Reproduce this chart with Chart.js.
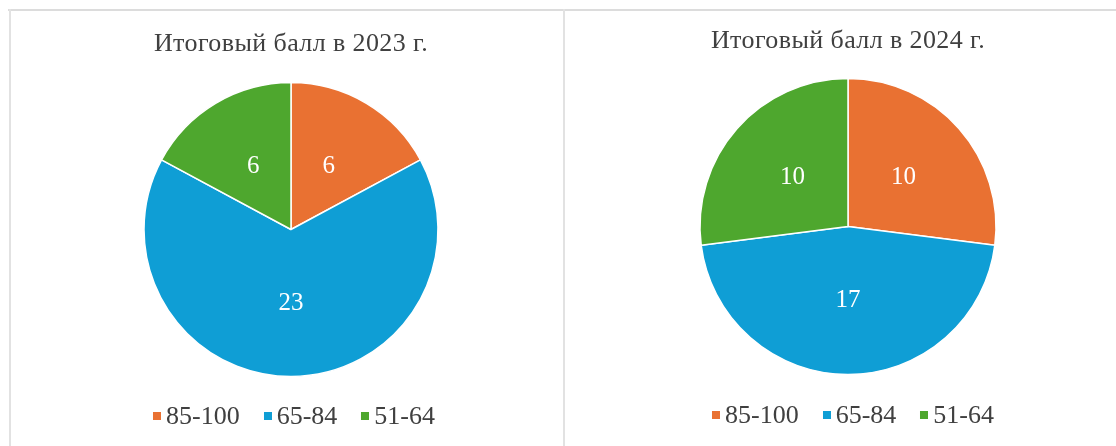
<!DOCTYPE html>
<html><head><meta charset="utf-8">
<script src="https://cdn.jsdelivr.net/npm/chart.js@4"></script>
<style>
html,body{margin:0;padding:0;background:#fff;width:1116px;height:446px;overflow:hidden;}
#wrap{position:relative;width:1116px;height:446px;font-family:"Liberation Serif","Times New Roman",serif;color:#404040;}
canvas{position:absolute;top:0;}
.title{position:absolute;font-size:26px;white-space:nowrap;transform:translate(-50%,-50%);letter-spacing:0.4px;}
.legend{position:absolute;display:flex;align-items:center;font-size:26px;white-space:nowrap;transform:translate(-50%,-50%);}
.legend .it{display:flex;align-items:center;margin-right:24px;}
.legend .it:last-child{margin-right:0;}
.legend .sw{width:8px;height:8px;margin-right:5px;}
.line{position:absolute;background:#dcdcdc;}
</style></head>
<body><div id="wrap">
<div class="line" style="left:8px;top:9px;width:1108px;height:2px;"></div>
<div class="line" style="left:9px;top:9px;width:2px;height:437px;background:#e2e2e2"></div>
<div class="line" style="left:563px;top:9px;width:2px;height:437px;background:#e2e2e2"></div>
<canvas id="c1" width="540" height="446" style="left:21px;width:540px;height:446px"></canvas>
<canvas id="c2" width="540" height="446" style="left:578px;width:540px;height:446px"></canvas>
</div>
<script>
const categories = ["85-100", "65-84", "51-64"];
const values2023 = [6, 23, 6];
const values2024 = [10, 17, 10];
const titles = ["Итоговый балл в 2023 г.", "Итоговый балл в 2024 г."];
const colors = ["#E97132", "#0F9ED5", "#4EA72E"];

const wrap = document.getElementById('wrap');
function addText(cls, html, x, y) {
  const d = document.createElement('div');
  d.className = cls; d.innerHTML = html;
  d.style.left = x + 'px'; d.style.top = y + 'px';
  wrap.appendChild(d);
}
function legendHtml() {
  return categories.map((c, i) => `<div class="it"><div class="sw" style="background:${colors[i]}"></div><span>${c}</span></div>`).join('');
}

const labelPlugin = {
  id: 'valueLabels',
  afterDatasetsDraw(chart) {
    const ctx = chart.ctx;
    const meta = chart.getDatasetMeta(0);
    const data = chart.data.datasets[0].data;
    ctx.save();
    ctx.fillStyle = '#ffffff';
    ctx.font = '25px "Liberation Serif", serif';
    ctx.textAlign = 'center';
    ctx.textBaseline = 'middle';
    meta.data.forEach((arc, i) => {
      const p = arc.tooltipPosition();
      ctx.fillText(String(data[i]), p.x, p.y);
    });
    ctx.restore();
  }
};

function makePie(id, values, radius, padTop, padBottom) {
  return new Chart(document.getElementById(id), {
    type: 'pie',
    data: {
      labels: categories,
      datasets: [{
        data: values,
        backgroundColor: colors,
        borderColor: '#ffffff',
        borderWidth: 1.5,
        radius: radius
      }]
    },
    options: {
      responsive: false,
      animation: false,
      layout: { padding: { top: padTop, bottom: padBottom, left: 0, right: 0 } },
      plugins: { legend: { display: false }, title: { display: false }, tooltip: { enabled: false } }
    },
    plugins: [labelPlugin]
  });
}

makePie('c1', values2023, 147, 90, 77);
makePie('c2', values2024, 148, 90, 83);

addText('title', titles[0], 291, 43);
addText('title', titles[1], 848, 40);
addText('legend', legendHtml(), 294, 416);
addText('legend', legendHtml(), 853, 415);
</script>
</body></html>
